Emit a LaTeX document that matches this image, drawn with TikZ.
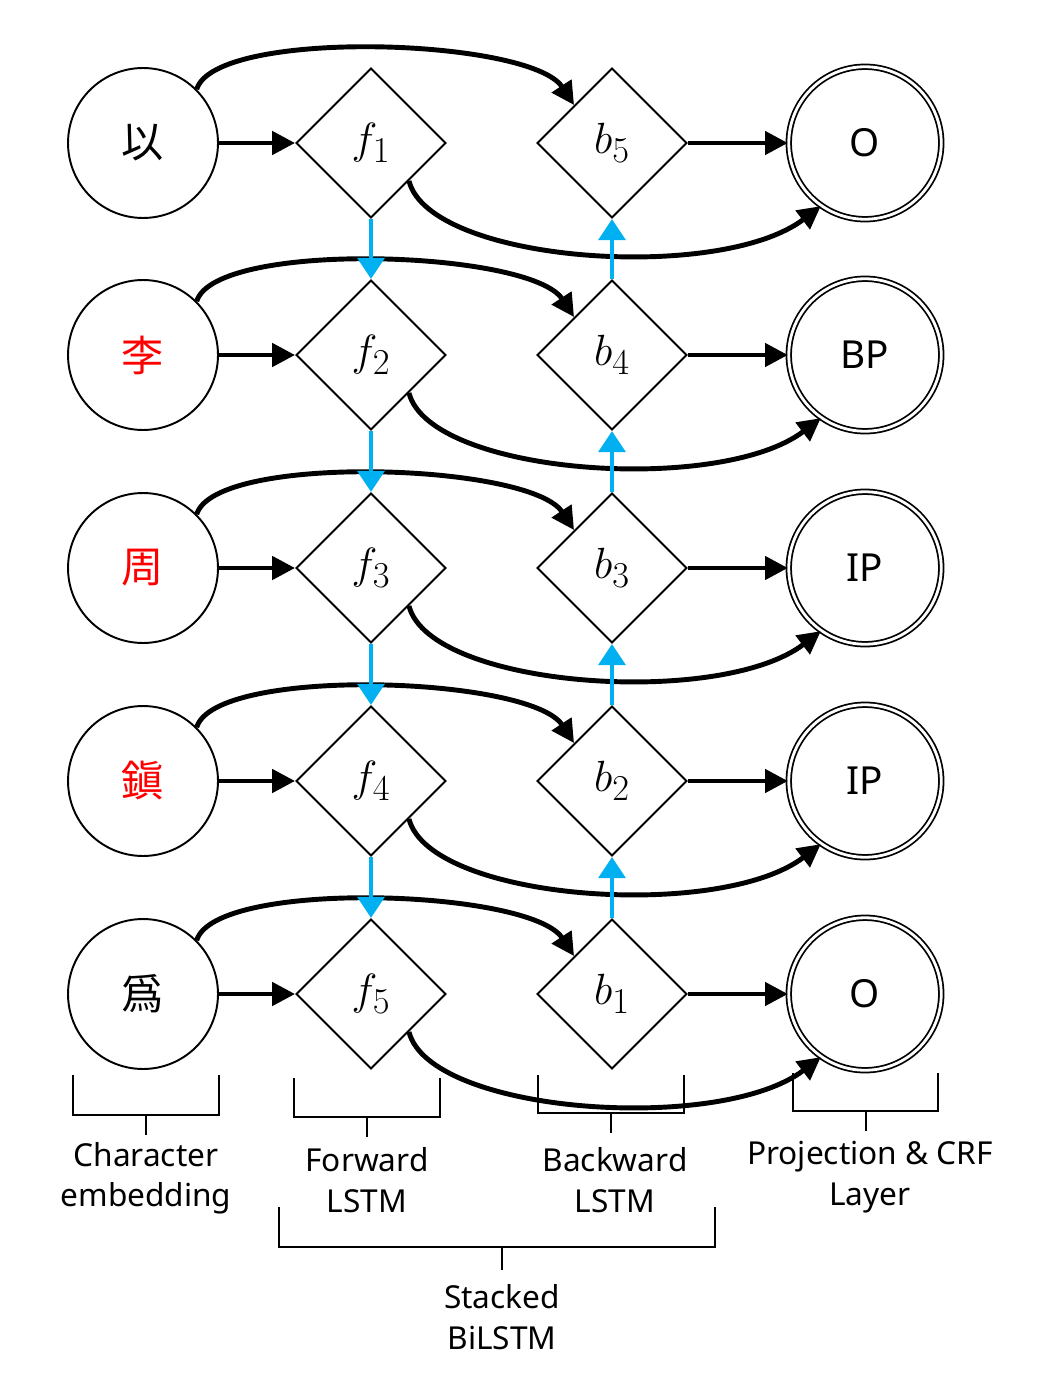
\documentclass[tikz,border=0pt]{standalone}
\usepackage{fontspec}
\setmainfont{Noto Sans}
\newfontfamily\cjk{Noto Sans CJK KR}
\usetikzlibrary{shapes.geometric,arrows.meta}
\begin{document}
\begin{tikzpicture}[x=0.02cm,y=-0.02cm,
 inp/.style={circle,draw,line width=1.1pt,minimum size=3cm,inner sep=0pt,font=\cjk\fontsize{24}{24}\selectfont},
 outp/.style={circle,draw,double,double distance=1.6pt,line width=1pt,minimum size=3.05cm,inner sep=0pt,font=\fontsize{22}{22}\selectfont},
 lstm/.style={diamond,draw,line width=1.1pt,minimum size=3cm,inner sep=0pt,font=\fontsize{31}{31}\selectfont},
 blk/.style={line width=2.8pt,-{Triangle[length=13pt,width=13pt]}},
 blu/.style={line width=2.8pt,draw={rgb,255:red,0;green,176;blue,240},-{Triangle[length=12pt,width=15pt]}},
 br/.style={line width=1pt},
 lab/.style={font=\fontsize{18}{23}\selectfont,align=center}]
\useasboundingbox (0,0) rectangle (1041,1378);
\foreach \i/\y/\c/\cc/\o/\b in {1/143/以/black/O/5,2/355/李/red/BP/4,3/568/周/red/IP/3,4/781/鎭/red/IP/2,5/994/爲/black/O/1}{
 \node[inp,text=\cc] (c\i) at (143,\y) {\c};
 \node[lstm] (f\i) at (371,\y) {$f_{\i}$};
 \node[lstm] (b\i) at (612,\y) {$b_{\b}$};
 \node[outp] (o\i) at (865,\y) {\o};
 \draw[blk] (c\i) -- (f\i);
 \draw[blk] (b\i) -- (o\i);
 \draw[blk] (c\i.45) .. controls (215,\y-115) and (530,\y-105) .. (b\i.north west);
 \draw[blk] (f\i.south east) .. controls (430,\y+120) and (720,\y+140) .. (o\i.-125);
}
\foreach \i/\j in {1/2,2/3,3/4,4/5}{
 \draw[blu] (f\i) -- (f\j);
 \draw[blu] (b\j) -- (b\i);
}
\draw[br] (73,1075) -- (73,1115) -- (219,1115) -- (219,1075) (146,1115) -- (146,1135);
\draw[br] (294,1078) -- (294,1117) -- (440,1117) -- (440,1078) (367,1117) -- (367,1137);
\draw[br] (538,1075) -- (538,1113) -- (684,1113) -- (684,1075) (611,1113) -- (611,1133);
\draw[br] (793,1073) -- (793,1111) -- (938,1111) -- (938,1073) (866,1111) -- (866,1131);
\draw[br] (279,1207) -- (279,1247) -- (715,1247) -- (715,1207) (502,1247) -- (502,1270);
\node[lab] (t1) at (146,1178) {Character\\embedding};
\node[lab] (t2) at (367,1180) {Forward\\LSTM};
\node[lab] (t3) at (615,1180) {Backward\\LSTM};
\node[lab] (t4) at (870,1177) {Projection \& CRF\\Layer};
\node[lab] (t5) at (502,1317) {Stacked\\BiLSTM};
\end{tikzpicture}
\end{document}
